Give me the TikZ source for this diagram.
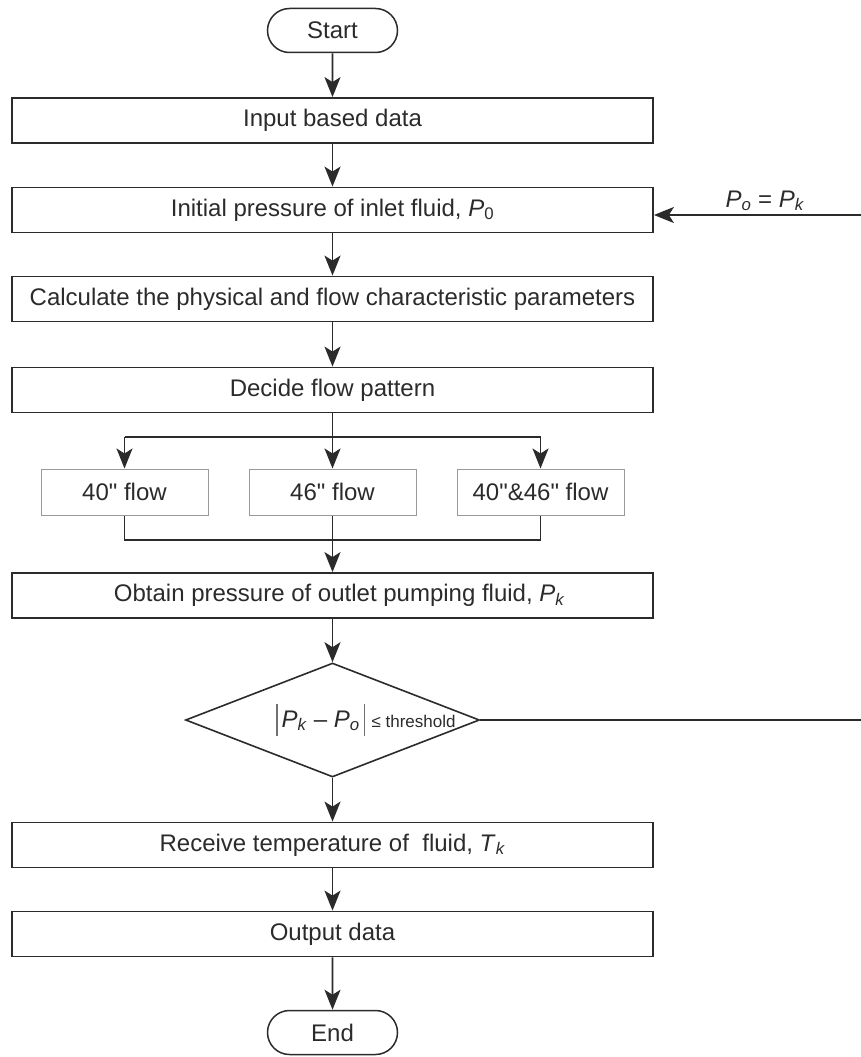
\documentclass[tikz,border=0pt]{standalone}
\usepackage{fontspec}
\setmainfont{Liberation Sans}[Ligatures=TeXOff]
\usetikzlibrary{arrows.meta,shapes.geometric,shapes.misc,calc}
\definecolor{ink}{HTML}{2B2B2B}
\definecolor{soft}{HTML}{9A9A9A}
\definecolor{barc}{HTML}{707070}
\newcommand\sym[2]{\textit{#1}\textsubscript{#2}}
\newcommand\tallbar{\textcolor{barc}{\rule[-9pt]{1.2pt}{32pt}}}
\begin{document}
\begin{tikzpicture}[x=1pt,y=-1pt,
  every node/.style={font=\fontsize{24}{28}\selectfont, text=ink},
  mainbox/.style={draw=ink, line width=1.8pt, minimum width=641pt, minimum height=45pt, inner sep=0pt},
  flowbox/.style={draw=soft, line width=1pt, minimum width=167pt, minimum height=46pt, inner sep=0pt},
  term/.style={draw=ink, line width=1.5pt, rounded rectangle, minimum width=130pt, minimum height=44pt, inner sep=0pt},
  decision/.style={draw=ink, line width=1.6pt, diamond, minimum width=294pt, minimum height=114pt, inner sep=0pt},
  conn/.style={draw=ink, line width=1.8pt},
  arr/.style={conn, -{Stealth[length=20pt,width=16pt,inset=5pt]}},
]
\useasboundingbox (0,0) rectangle (860,1057);

\node[term] (start) at (332.5,30.5) {Start};
\node[mainbox] (b1) at (332.5,120.5) {Input based data};
\node[mainbox] (b2) at (332.5,210) {Initial pressure of inlet fluid, \sym{P}{0}};
\node[mainbox] (b3) at (332.5,299) {Calculate the physical and flow characteristic parameters};
\node[mainbox] (b4) at (332.5,390) {Decide flow pattern};
\node[flowbox] (f1) at (124.5,492) {40" flow};
\node[flowbox] (f2) at (332.5,492) {46" flow};
\node[flowbox] (f3) at (540.5,492) {40"\&46" flow};
\node[mainbox] (b5) at (332.5,595.5) {\hspace{14pt}Obtain pressure of outlet pumping fluid, \sym{P}{\textit{k}}};
\node[decision] (d) at (332.5,720) {};
\node[inner sep=0pt] (dt) at (366,720) {\tallbar\,\sym{P}{\textit{k}} – \sym{P}{\textit{o}}\,\tallbar\;{\fontsize{17}{19}\selectfont ≤ threshold}};
\node[mainbox] (b6) at (332.5,845) {Receive temperature of \ fluid, \sym{T}{\textit{k}}};
\node[mainbox] (b7) at (332.5,934) {Output data};
\node[term] (end) at (332.5,1032.5) {End};

\coordinate (br) at (332.5,437);
\coordinate (mg) at (332.5,540);
\coordinate (c1) at (864,720);
\coordinate (c2) at (864,215);
\node[anchor=base] (lbl) at (765,207) {\sym{P}{\textit{o}} = \sym{P}{\textit{k}}};

\draw[arr] (start) -- (b1);
\draw[arr] (b1) -- (b2);
\draw[arr] (b2) -- (b3);
\draw[arr] (b3) -- (b4);
\draw[arr] (b4) -- (f2);
\draw[conn] (f1.north |- br) -- (f3.north |- br);
\draw[arr] (f1.north |- br) -- (f1.north);
\draw[arr] (f3.north |- br) -- (f3.north);
\draw[conn] (f1.south) -- (f1.south |- mg) -- (f3.south |- mg) -- (f3.south);
\draw[arr] (f2) -- (b5);
\draw[arr] (b5) -- (d);
\draw[arr] (d) -- (b6);
\draw[arr] (b6) -- (b7);
\draw[arr] (b7) -- (end);
\draw[arr] (d.east) -- (c1) -- (c2) -- (c2 -| b2.east);
\end{tikzpicture}
\end{document}
